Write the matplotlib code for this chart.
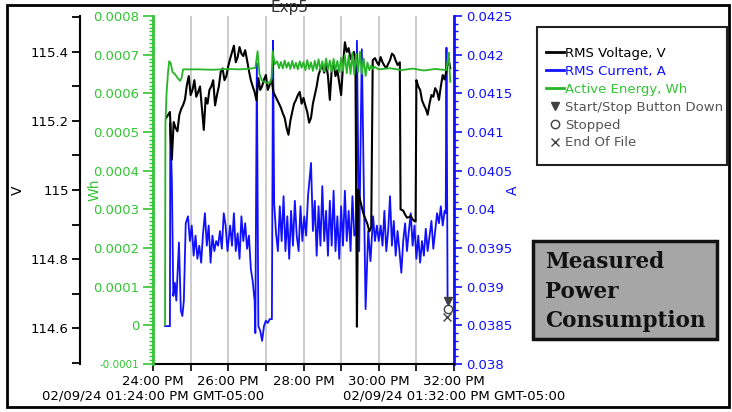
import matplotlib
matplotlib.use('Agg')
import matplotlib.pyplot as plt
from matplotlib.lines import Line2D
from matplotlib.patches import Rectangle
from matplotlib.ticker import MultipleLocator

# time in minutes after 01:24:00 PM
volt_t = [0.35, 0.45, 0.50, 0.55, 0.60, 0.65, 0.70, 0.75, 0.80, 0.85,
          0.90, 0.95, 1.00, 1.05, 1.10, 1.15, 1.20, 1.25, 1.30, 1.35,
          1.40, 1.45, 1.50, 1.55, 1.60, 1.65, 1.70, 1.75, 1.80, 1.85,
          1.90, 1.95, 2.00, 2.05, 2.10, 2.15, 2.20, 2.25, 2.30, 2.35,
          2.40, 2.45, 2.50, 2.55, 2.60, 2.65, 2.70, 2.75, 2.80, 2.85,
          2.90, 2.95, 3.00, 3.05, 3.10, 3.15, 3.20, 3.25, 3.30, 3.35,
          3.40, 3.45, 3.50, 3.55, 3.60, 3.65, 3.70, 3.75, 3.80, 3.85,
          3.90, 3.95, 4.00, 4.05, 4.10, 4.15, 4.20, 4.25, 4.30, 4.35,
          4.40, 4.45, 4.50, 4.55, 4.60, 4.65, 4.70, 4.75, 4.80, 4.85,
          4.90, 4.95, 5.00, 5.05, 5.10, 5.15, 5.20, 5.25, 5.30, 5.34,
          5.38, 5.42, 5.45, 5.50, 5.55, 5.60, 5.65, 5.70, 5.75, 5.80,
          5.84, 5.90, 5.95, 6.00, 6.05, 6.10, 6.15, 6.20, 6.25, 6.30,
          6.35, 6.40, 6.45, 6.50, 6.56, 6.58, 6.65, 6.70, 6.75, 6.80,
          6.85, 6.90, 6.95, 6.98, 7.00, 7.05, 7.10, 7.15, 7.20, 7.25,
          7.30, 7.35, 7.40, 7.45, 7.50, 7.55, 7.60, 7.65, 7.70, 7.75,
          7.80, 7.85, 7.90]
volt_v = [115.209, 115.226, 115.088, 115.197, 115.180, 115.170, 115.218, 115.235, 115.246, 115.262,
          115.304, 115.330, 115.275, 115.290, 115.318, 115.270, 115.284, 115.300, 115.238, 115.174,
          115.267, 115.250, 115.290, 115.300, 115.318, 115.245, 115.275, 115.300, 115.342, 115.352,
          115.318, 115.330, 115.359, 115.380, 115.399, 115.418, 115.370, 115.385, 115.414, 115.395,
          115.388, 115.405, 115.376, 115.345, 115.318, 115.300, 115.284, 115.260, 115.324, 115.290,
          115.301, 115.320, 115.333, 115.290, 115.304, 115.322, 115.284, 115.272, 115.261, 115.250,
          115.238, 115.222, 115.209, 115.180, 115.160, 115.200, 115.226, 115.250, 115.261, 115.275,
          115.284, 115.250, 115.267, 115.245, 115.226, 115.195, 115.209, 115.250, 115.275, 115.300,
          115.333, 115.350, 115.362, 115.340, 115.370, 115.330, 115.261, 115.350, 115.370, 115.330,
          115.347, 115.310, 115.275, 115.360, 115.428, 115.400, 115.411, 115.380, 115.390, 115.400,
          115.376, 114.604, 115.001, 114.973, 114.950, 114.929, 114.915, 114.901, 114.880, 114.892,
          115.376, 115.382, 115.370, 115.362, 115.385, 115.370, 115.360, 115.353, 115.365, 115.376,
          115.395, 115.390, 115.375, 115.362, 115.370, 114.944, 114.940, 114.929, 114.920, 114.921,
          114.925, 114.915, 114.910, 114.909, 115.318, 115.300, 115.290, 115.260, 115.246, 115.235,
          115.218, 115.250, 115.275, 115.270, 115.295, 115.285, 115.261, 115.300, 115.333, 115.320,
          115.347, 115.382, 115.353]

curr_t = [0.32, 0.45, 0.46, 0.50, 0.54, 0.58, 0.62, 0.69, 0.74, 0.78,
          0.82, 0.87, 0.93, 0.98, 1.03, 1.08, 1.13, 1.18, 1.23, 1.28,
          1.33, 1.38, 1.43, 1.48, 1.53, 1.58, 1.63, 1.68, 1.73, 1.78,
          1.83, 1.88, 1.93, 1.98, 2.05, 2.10, 2.15, 2.20, 2.25, 2.30,
          2.35, 2.40, 2.45, 2.50, 2.55, 2.60, 2.65, 2.70, 2.72, 2.76,
          2.80, 2.85, 2.90, 2.95, 3.00, 3.05, 3.10, 3.16, 3.19, 3.22,
          3.27, 3.32, 3.37, 3.42, 3.47, 3.52, 3.57, 3.62, 3.67, 3.72,
          3.77, 3.82, 3.87, 3.92, 3.97, 4.02, 4.07, 4.12, 4.20, 4.25,
          4.30, 4.35, 4.40, 4.45, 4.50, 4.55, 4.60, 4.65, 4.70, 4.75,
          4.80, 4.85, 4.90, 4.95, 5.00, 5.05, 5.10, 5.15, 5.20, 5.25,
          5.30, 5.35, 5.40, 5.42, 5.48, 5.55, 5.65, 5.72, 5.78, 5.85,
          5.90, 5.95, 6.00, 6.05, 6.10, 6.15, 6.20, 6.25, 6.30, 6.35,
          6.40, 6.45, 6.50, 6.55, 6.60, 6.65, 6.70, 6.75, 6.80, 6.85,
          6.90, 6.95, 7.00, 7.05, 7.10, 7.15, 7.20, 7.25, 7.30, 7.35,
          7.40, 7.45, 7.50, 7.55, 7.60, 7.65, 7.70, 7.75, 7.78, 7.80,
          7.83]
curr_a = [0.03849, 0.03849, 0.04112, 0.04039, 0.03888, 0.03905, 0.03882, 0.03957, 0.03869, 0.03862,
          0.03882, 0.03982, 0.03991, 0.03959, 0.03979, 0.03940, 0.03966, 0.03936, 0.03953, 0.03931,
          0.03969, 0.03995, 0.03953, 0.03979, 0.03931, 0.03966, 0.03946, 0.03959, 0.03953, 0.03972,
          0.03949, 0.03995, 0.03979, 0.03946, 0.03979, 0.03953, 0.03995, 0.03946, 0.03969, 0.03936,
          0.03991, 0.03959, 0.03982, 0.03949, 0.03966, 0.03923, 0.03907, 0.03882, 0.03840, 0.04189,
          0.03849, 0.03843, 0.03830, 0.03849, 0.03856, 0.03853, 0.03858, 0.03858, 0.04218, 0.04008,
          0.03969, 0.03946, 0.04004, 0.03959, 0.04017, 0.03946, 0.03991, 0.03936, 0.03998, 0.03953,
          0.04011, 0.03966, 0.03946, 0.04004, 0.03959, 0.03991, 0.03966, 0.04017, 0.04060, 0.03972,
          0.04011, 0.03940, 0.04004, 0.03953, 0.04030, 0.03959, 0.03998, 0.03940, 0.04011, 0.03953,
          0.04024, 0.03946, 0.03991, 0.03936, 0.04004, 0.03953, 0.04024, 0.03959, 0.03998, 0.03946,
          0.04017, 0.03966, 0.03972, 0.04218, 0.03946, 0.04207, 0.03871, 0.03972, 0.03933, 0.03991,
          0.03959, 0.03979, 0.03959, 0.03979, 0.03953, 0.03998, 0.03946, 0.03972, 0.04017, 0.03953,
          0.03985, 0.03940, 0.03972, 0.03946, 0.03918, 0.03959, 0.03982, 0.03946, 0.03972, 0.03995,
          0.03953, 0.03979, 0.03936, 0.03966, 0.03931, 0.03959, 0.03940, 0.03975, 0.03946, 0.03966,
          0.03985, 0.03949, 0.03972, 0.03995, 0.03982, 0.04004, 0.03979, 0.03998, 0.03995, 0.04209,
          0.03879]

energy_t = [0.32, 0.33, 0.36, 0.40, 0.43, 0.47, 0.52, 0.58, 0.65, 0.72,
            0.76, 0.80, 1.20, 1.60, 2.00, 2.30, 2.60, 2.72, 2.78, 2.83,
            2.90, 3.00, 3.10, 3.15, 3.18, 3.24,
            3.30, 3.35, 3.40, 3.45, 3.50, 3.55, 3.60, 3.65, 3.70, 3.75,
            3.80, 3.85, 3.90, 3.95, 4.00, 4.05, 4.10, 4.15, 4.20, 4.25,
            4.30, 4.35, 4.40, 4.45, 4.50, 4.55, 4.60, 4.65, 4.70, 4.75,
            4.80, 4.85, 4.90, 4.95, 5.00, 5.05, 5.10, 5.15, 5.20, 5.25,
            5.30, 5.35, 5.40, 5.45, 5.50, 5.55, 5.60, 5.65, 5.70, 5.75,
            5.80, 5.85, 5.90,
            6.00, 6.30, 6.60, 6.90, 7.20, 7.50, 7.80, 7.84, 7.86, 7.90]
energy_wh = [0.0, 0.00052, 0.00060, 0.000655, 0.000683, 0.000678, 0.000655, 0.00065, 0.00064, 0.000632,
             0.00064, 0.000662, 0.000662, 0.000661, 0.000663, 0.000662, 0.000664, 0.000666, 0.000709, 0.00065,
             0.000632, 0.000628, 0.000626, 0.000637, 0.000709, 0.000675,
             0.000683, 0.000665, 0.000681, 0.000664, 0.000685, 0.000666, 0.000680, 0.000663, 0.000684, 0.000665,
             0.000679, 0.000662, 0.000683, 0.000666, 0.000681, 0.000660, 0.000686, 0.000663, 0.000680, 0.000658,
             0.000684, 0.000662, 0.000688, 0.000660, 0.000683, 0.000657, 0.000690, 0.000661, 0.000685, 0.000656,
             0.000689, 0.000660, 0.000684, 0.000655, 0.000692, 0.000658, 0.000700, 0.000652, 0.000697, 0.000650,
             0.000705, 0.000648, 0.000702, 0.000655, 0.000708, 0.000650, 0.000690, 0.000645, 0.000680, 0.000660,
             0.000672, 0.000663, 0.000668,
             0.000662, 0.000665, 0.000660, 0.000664, 0.000659, 0.000663, 0.000660, 0.000695, 0.000705, 0.00063]

# start/stop, stopped, end of file markers (on current axis)
event_t = [7.83, 7.83, 7.82]
event_a = [0.03882, 0.03871, 0.03861]

x_ticks = [0, 2, 4, 6, 8]
x_labels = ['24:00 PM', '26:00 PM', '28:00 PM', '30:00 PM', '32:00 PM']
date_labels = ['02/09/24 01:24:00 PM GMT-05:00', '02/09/24 01:32:00 PM GMT-05:00']
v_ticks = [114.6, 114.8, 115.0, 115.2, 115.4]
v_labels = ['114.6', '114.8', '115', '115.2', '115.4']
e_ticks = [-0.0001, 0, 0.0001, 0.0002, 0.0003, 0.0004, 0.0005, 0.0006, 0.0007, 0.0008]
e_labels = ['-0.0001', '0', '0.0001', '0.0002', '0.0003', '0.0004', '0.0005', '0.0006', '0.0007', '0.0008']
a_ticks = [0.038, 0.0385, 0.039, 0.0395, 0.04, 0.0405, 0.041, 0.0415, 0.042, 0.0425]
a_labels = ['0.038', '0.0385', '0.039', '0.0395', '0.04', '0.0405', '0.041', '0.0415', '0.042', '0.0425']

GREEN = '#26b526'
GREEN_TXT = '#33c433'
BLUE = '#1010ff'
W, H = 732, 412
fs = 9.5

fig = plt.figure(figsize=(W / 100, H / 100), dpi=100)

# base axes: current (blue, right) + time axis
ax = fig.add_axes([153 / W, (H - 364) / H, 301 / W, 348 / H])
ax_v = ax.twinx()
ax_e = ax.twinx()

ax.set_xlim(0, 8)
ax.set_xticks(x_ticks, x_labels, fontsize=fs)
ax.xaxis.set_minor_locator(MultipleLocator(1))
ax.tick_params(axis='x', which='major', length=5, width=1.2, pad=3, colors='black')
ax.tick_params(axis='x', which='minor', length=5, width=1.2)
ax.grid(axis='x', which='both', color='#c8c8c8', lw=1.3)
ax.set_axisbelow(True)
ax.text(x_ticks[0], -(396 - 364) / 348, date_labels[0], transform=ax.get_xaxis_transform(),
        ha='center', va='center', fontsize=fs)
ax.text(x_ticks[-1], -(396 - 364) / 348, date_labels[1], transform=ax.get_xaxis_transform(),
        ha='center', va='center', fontsize=fs)

ax.plot(curr_t, curr_a, color=BLUE, lw=1.3, zorder=3)
ax.plot(event_t[0], event_a[0], ls='none', marker='v', color='#404040', ms=6, zorder=4)
ax.plot(event_t[1], event_a[1], ls='none', marker='o', mfc='none', mec='#404040', ms=6, zorder=4)
ax.plot(event_t[2], event_a[2], ls='none', marker='x', color='#404040', ms=6, zorder=4)
ax.set_ylim(0.038, 0.0425)
ax.yaxis.tick_right()
ax.set_yticks(a_ticks, a_labels)
ax.yaxis.set_minor_locator(MultipleLocator(0.0001))
ax.tick_params(axis='y', which='major', length=6, width=1.2, colors=BLUE, labelsize=fs, pad=3)
ax.tick_params(axis='y', which='minor', length=3, width=1, colors=BLUE)
for s in ['left', 'top']:
    ax.spines[s].set_visible(False)
ax.spines['right'].set_color(BLUE)
ax.spines['right'].set_linewidth(2)
ax.spines['bottom'].set_linewidth(1.5)

# voltage axis (black, outer left)
ax_v.plot(volt_t, volt_v, color='black', lw=1.5)
ax_v.set_ylim(114.496, 115.504)
ax_v.yaxis.tick_left()
ax_v.set_yticks(v_ticks, v_labels)
ax_v.yaxis.set_minor_locator(MultipleLocator(0.1))
ax_v.tick_params(axis='y', which='both', length=6, width=1.3, colors='black', labelsize=fs, pad=2)
for s in ['right', 'top', 'bottom']:
    ax_v.spines[s].set_visible(False)
ax_v.spines['left'].set_visible(True)
ax_v.spines['left'].set_position(('outward', 73 * 0.72))
ax_v.spines['left'].set_linewidth(1.5)

# energy axis (green, inner left)
ax_e.plot(energy_t, energy_wh, color=GREEN, lw=1.3)
ax_e.set_ylim(-0.0001, 0.0008)
ax_e.yaxis.tick_left()
ax_e.set_yticks(e_ticks, e_labels)
ax_e.yaxis.set_minor_locator(MultipleLocator(0.00001))
ax_e.tick_params(axis='y', which='major', length=7, width=1.2, colors=GREEN_TXT, labelsize=fs, pad=3)
ax_e.tick_params(axis='y', which='minor', length=3, width=1, colors=GREEN_TXT)
ax_e.get_yticklabels()[0].set_fontsize(7.5)
for s in ['right', 'top', 'bottom']:
    ax_e.spines[s].set_visible(False)
ax_e.spines['left'].set_visible(True)
ax_e.spines['left'].set_color(GREEN_TXT)
ax_e.spines['left'].set_linewidth(2)

# axis titles
fig.text(18 / W, 1 - 190 / H, 'V', rotation=90, ha='center', va='center', fontsize=10, color='black')
fig.text(95 / W, 1 - 190 / H, 'Wh', rotation=90, ha='center', va='center', fontsize=10, color=GREEN_TXT)
fig.text(513 / W, 1 - 190 / H, 'A', rotation=90, ha='center', va='center', fontsize=10, color=BLUE)
fig.text(290 / W, 1 - 12 / H, 'Exp5', ha='center', va='baseline', fontsize=11, color='#333333')

# legend
fig.add_artist(Rectangle((537 / W, 1 - 165 / H), 190 / W, 138 / H, transform=fig.transFigure,
                         fill=False, ec='#222222', lw=1.5))
handles = [Line2D([], [], color='black', lw=2),
           Line2D([], [], color=BLUE, lw=2),
           Line2D([], [], color=GREEN, lw=2),
           Line2D([], [], ls='none', marker='v', color='#404040', ms=6),
           Line2D([], [], ls='none', marker='o', mfc='none', mec='#404040', ms=6),
           Line2D([], [], ls='none', marker='x', color='#404040', ms=6)]
names = ['RMS Voltage, V', 'RMS Current, A', 'Active Energy, Wh',
         'Start/Stop Button Down', 'Stopped', 'End Of File']
fig.legend(handles, names, loc='upper left', bbox_to_anchor=(546 / W, 1 - 47 / H),
           frameon=False, fontsize=fs, handlelength=1.35, handletextpad=0.1,
           labelspacing=0.37, borderpad=0, borderaxespad=0,
           labelcolor=['black', BLUE, GREEN_TXT, '#555555', '#555555', '#555555'])

# annotation box
fig.add_artist(Rectangle((533 / W, 1 - 339 / H), 184 / W, 98 / H, transform=fig.transFigure,
                         fc='#a6a6a6', ec='#111111', lw=2.5))
fig.text(545 / W, 1 - 251 / H, 'Measured\nPower\nConsumption', ha='left', va='top',
         fontsize=15.5, fontweight='bold', family='DejaVu Serif', linespacing=1.45, color='#111111')

# outer frame
fig.add_artist(Rectangle((7 / W, 1 - 407 / H), 722 / W, 402 / H, transform=fig.transFigure,
                         fill=False, ec='black', lw=2))

fig.savefig('out.png', dpi=100)
